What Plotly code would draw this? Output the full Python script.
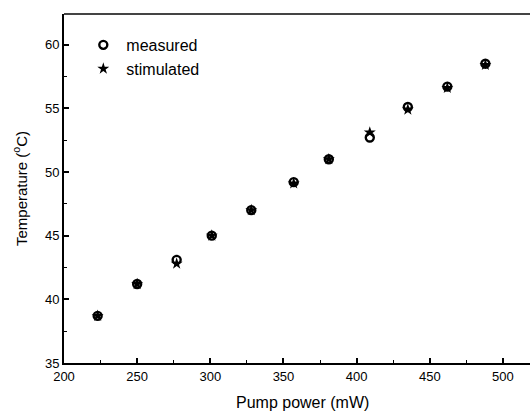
import plotly.graph_objects as go

pump_power = [223, 250, 277, 301, 328, 357, 381, 409, 435, 462, 488]
measured = [38.7, 41.2, 43.1, 45.0, 47.0, 49.2, 51.0, 52.7, 55.1, 56.7, 58.5]
stimulated = [38.7, 41.2, 42.8, 45.0, 47.0, 49.1, 51.0, 53.1, 54.9, 56.6, 58.4]
x_ticks = [200, 250, 300, 350, 400, 450, 500]
y_ticks = [35, 40, 45, 50, 55, 60]

fig = go.Figure()
fig.add_trace(go.Scatter(x=pump_power, y=stimulated, mode="markers", name="stimulated",
                         marker=dict(symbol="star", size=9, color="black")))
fig.add_trace(go.Scatter(x=pump_power, y=measured, mode="markers", name="measured",
                         marker=dict(symbol="circle-open", size=8, color="black",
                                     line=dict(width=2.4, color="black"))))

fig.update_layout(
    width=530, height=412,
    margin=dict(l=64, r=0, t=14, b=49, autoexpand=False),
    paper_bgcolor="white", plot_bgcolor="white",
    font=dict(family="Liberation Sans, Arial", color="black"),
    showlegend=True,
    legend=dict(x=0.035, y=0.96, xanchor="left", yanchor="top",
                traceorder="reversed", font=dict(size=16),
                bgcolor="rgba(0,0,0,0)", itemwidth=36, tracegroupgap=0),
    xaxis=dict(range=[200, 518.5], tickvals=x_ticks, ticks="inside", ticklen=5,
               tickwidth=1.5, tickcolor="black",
               minor=dict(tickvals=[225, 275, 325, 375, 425, 475], ticks="inside",
                          ticklen=3, tickcolor="black", tickwidth=1.2),
               showline=True, linecolor="black", linewidth=2, mirror=False,
               showgrid=False, zeroline=False, tickfont=dict(size=13),
               automargin=False),
    yaxis=dict(range=[35, 62.4], tickvals=y_ticks, ticks="inside", ticklen=5,
               tickwidth=1.5, tickcolor="black",
               minor=dict(tickvals=[37.5, 42.5, 47.5, 52.5, 57.5], ticks="inside",
                          ticklen=3, tickcolor="black", tickwidth=1.2),
               showline=True, linecolor="black", linewidth=2,
               showgrid=False, zeroline=False, tickfont=dict(size=13),
               automargin=False,
               title=dict(text="Temperature (<sup>o</sup>C)", font=dict(size=15), standoff=14)),
    shapes=[dict(type="line", xref="paper", yref="paper", x0=0, x1=1, y0=1, y1=1,
                 line=dict(color="#444444", width=2))],
    annotations=[dict(text="Pump power (mW)", xref="paper", yref="paper",
                      x=0.512, y=-0.112, xanchor="center", yanchor="middle",
                      showarrow=False, font=dict(size=16))],
)
fig.write_html("out.html", config={"displayModeBar": False},
               post_script="document.documentElement.style.overflow='hidden';document.body.style.margin='0';document.body.style.overflow='hidden';")
